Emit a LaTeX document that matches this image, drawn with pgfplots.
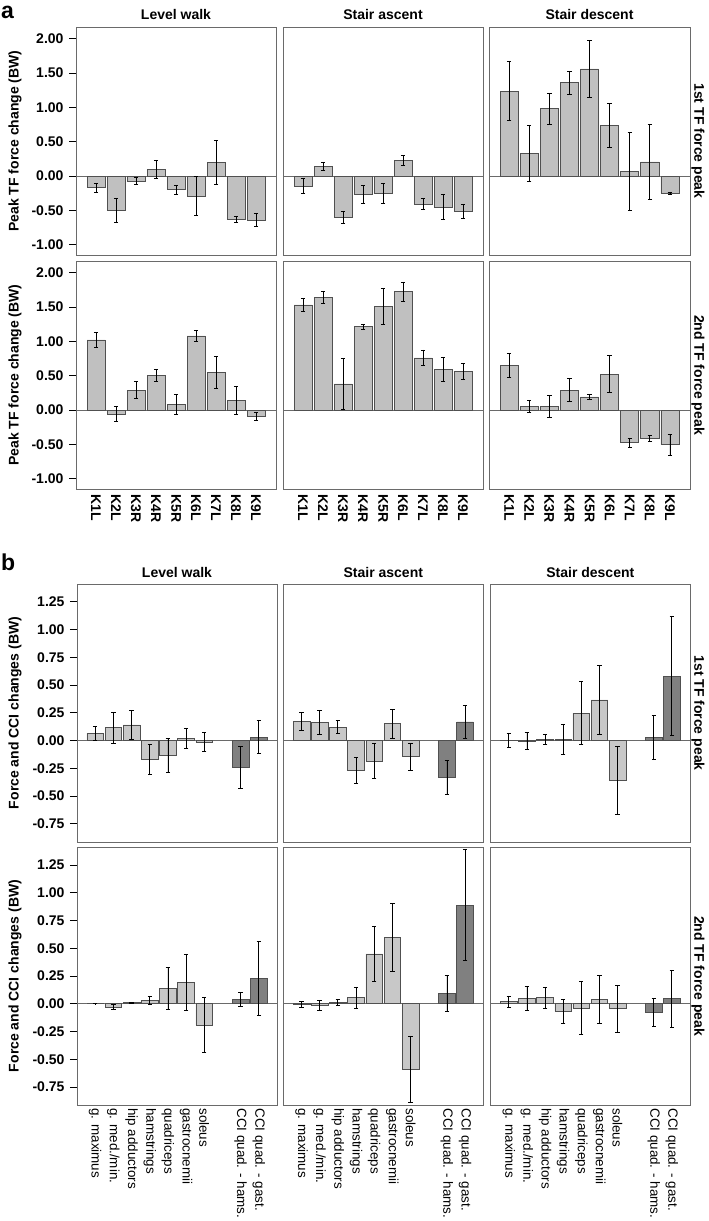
\documentclass[border=0pt]{standalone}
\usepackage{fontspec}
\setmainfont{Liberation Sans}
\usepackage{pgfplots}
\pgfplotsset{compat=1.18}
\definecolor{frameC}{HTML}{6A6A6A}
\definecolor{barA}{HTML}{C0C0C0}
\definecolor{barL}{HTML}{C8C8C8}
\definecolor{barD}{HTML}{808080}
\definecolor{edgeC}{HTML}{505050}
\newcommand{\fs}{\fontsize{14}{14}\selectfont}
\pgfplotsset{
  base/.style={scale only axis, anchor=north west, width=200pt,
    axis line style={draw=frameC, line width=0.9pt},
    ytick style={draw=black, line width=0.8pt},
    xtick style={draw=none},
    ytick pos=left, xtick pos=bottom, tick align=outside, major tick length=7pt,
    yticklabel shift=2pt, xticklabel shift=-5pt,
    ticklabel style={font=\fs\bfseries},
  },
  pa/.style={base, height=228pt, xmin=0, xmax=10, ymin=-1.15, ymax=2.17,
    ytick={-1,-0.5,0,0.5,1,1.5,2},
    yticklabels={-1.00,-0.50,0.00,0.50,1.00,1.50,2.00},
    xtick={1,...,9}, xticklabels={}},
  pb/.style={base, height=258pt, xmin=0, xmax=11, ymin=-0.915, ymax=1.41,
    ytick={-0.75,-0.5,-0.25,0,0.25,0.5,0.75,1,1.25},
    yticklabels={-0.75,-0.50,-0.25,0.00,0.25,0.50,0.75,1.00,1.25},
    xtick={1,2,3,4,5,6,7,9,10}, xticklabels={}},
  noy/.style={ytick=\empty},
  klab/.style={xticklabels={K1L,K2L,K3R,K4R,K5R,K6L,K7L,K8L,K9L},
    xticklabel style={rotate=-90, anchor=west, font=\fs\bfseries}},
  mlab/.style={xticklabel shift=-7.5pt, xticklabels={g. maximus,g. med./min.,hip adductors,hamstrings,quadriceps,gastrocnemii,soleus,CCI quad. - hams.,CCI quad. - gast.},
    xticklabel style={rotate=-90, anchor=west, font=\fontsize{13.4}{13.4}\selectfont\mdseries}},
  errs/.style={error bars/.cd, y dir=both, y explicit,
    error bar style={black, line width=0.8pt},
    error mark options={rotate=90, black, mark size=2.2pt, line width=0.8pt}},
  barsA/.style={ybar, bar width=0.9, bar shift=0pt, fill=barA, draw=edgeC, line width=0.6pt, errs},
  barsL/.style={ybar, bar width=0.92, bar shift=0pt, fill=barL, draw=edgeC, line width=0.6pt, errs},
  barsD/.style={ybar, bar width=0.92, bar shift=0pt, fill=barD, draw=edgeC, line width=0.6pt, errs},
}
\begin{document}
\begin{tikzpicture}
\path[use as bounding box] (0,0) rectangle (709pt,-1221pt);
\tikzset{lab/.style={font=\fs\bfseries, inner sep=0pt}}
% ---------- panel a ----------
\node[font=\fontsize{23}{23}\selectfont\bfseries, anchor=west, inner sep=0pt] at (1pt,-12pt) {a};
\node[lab] at (176pt,-14.5pt) {Level walk};
\node[lab] at (383pt,-14.5pt) {Stair ascent};
\node[lab] at (589.5pt,-14.5pt) {Stair descent};
\node[lab, rotate=90] at (15pt,-141pt) {Peak TF force change (BW)};
\node[lab, rotate=90] at (15pt,-375pt) {Peak TF force change (BW)};
\node[lab, rotate=-90] at (698pt,-141pt) {1st TF force peak};
\node[lab, rotate=-90] at (698pt,-375pt) {2nd TF force peak};
% row 1
\begin{axis}[pa, at={(76pt,-27pt)}]
\addplot[frameC, line width=0.8pt, forget plot] coordinates {(0,0) (10,0)};
\addplot[barsA] coordinates {(1,-0.17) +- (0,0.065) (2,-0.50) +- (0,0.18) (3,-0.07) +- (0,0.05) (4,0.10) +- (0,0.13) (5,-0.20) +- (0,0.065) (6,-0.29) +- (0,0.29) (7,0.20) +- (0,0.32) (8,-0.63) +- (0,0.04) (9,-0.64) +- (0,0.10)};
\end{axis}
\begin{axis}[pa, noy, at={(283pt,-27pt)}]
\addplot[frameC, line width=0.8pt, forget plot] coordinates {(0,0) (10,0)};
\addplot[barsA] coordinates {(1,-0.15) +- (0,0.11) (2,0.14) +- (0,0.055) (3,-0.60) +- (0,0.09) (4,-0.27) +- (0,0.13) (5,-0.25) +- (0,0.145) (6,0.225) +- (0,0.07) (7,-0.41) +- (0,0.08) (8,-0.45) +- (0,0.18) (9,-0.52) +- (0,0.10)};
\end{axis}
\begin{axis}[pa, noy, width=201pt, at={(489pt,-27pt)}]
\addplot[frameC, line width=0.8pt, forget plot] coordinates {(0,0) (10,0)};
\addplot[barsA] coordinates {(1,1.235) +- (0,0.43) (2,0.33) +- (0,0.405) (3,0.98) +- (0,0.23) (4,1.36) +- (0,0.165) (5,1.56) +- (0,0.415) (6,0.74) +- (0,0.32) (7,0.064) +- (0,0.57) (8,0.206) +- (0,0.54) (9,-0.25) +- (0,0.015)};
\end{axis}
% row 2
\begin{axis}[pa, klab, at={(76pt,-261pt)}]
\addplot[frameC, line width=0.8pt, forget plot] coordinates {(0,0) (10,0)};
\addplot[barsA] coordinates {(1,1.02) +- (0,0.105) (2,-0.06) +- (0,0.11) (3,0.29) +- (0,0.125) (4,0.50) +- (0,0.085) (5,0.083) +- (0,0.15) (6,1.08) +- (0,0.085) (7,0.55) +- (0,0.23) (8,0.14) +- (0,0.20) (9,-0.093) +- (0,0.054)};
\end{axis}
\begin{axis}[pa, klab, noy, at={(283pt,-261pt)}]
\addplot[frameC, line width=0.8pt, forget plot] coordinates {(0,0) (10,0)};
\addplot[barsA] coordinates {(1,1.53) +- (0,0.10) (2,1.64) +- (0,0.09) (3,0.38) +- (0,0.37) (4,1.215) +- (0,0.035) (5,1.51) +- (0,0.26) (6,1.725) +- (0,0.14) (7,0.76) +- (0,0.115) (8,0.59) +- (0,0.175) (9,0.56) +- (0,0.115)};
\end{axis}
\begin{axis}[pa, klab, noy, width=201pt, at={(489pt,-261pt)}]
\addplot[frameC, line width=0.8pt, forget plot] coordinates {(0,0) (10,0)};
\addplot[barsA] coordinates {(1,0.65) +- (0,0.18) (2,0.054) +- (0,0.09) (3,0.054) +- (0,0.16) (4,0.29) +- (0,0.17) (5,0.19) +- (0,0.04) (6,0.52) +- (0,0.27) (7,-0.475) +- (0,0.065) (8,-0.41) +- (0,0.04) (9,-0.505) +- (0,0.15)};
\end{axis}
% ---------- panel b ----------
\node[font=\fontsize{23}{23}\selectfont\bfseries, anchor=west, inner sep=0pt] at (1pt,-562pt) {b};
\node[lab] at (177pt,-572.7pt) {Level walk};
\node[lab] at (383.3pt,-572.7pt) {Stair ascent};
\node[lab] at (590.3pt,-572.7pt) {Stair descent};
\node[lab, rotate=90] at (15pt,-713pt) {Force and CCI changes (BW)};
\node[lab, rotate=90] at (15pt,-976pt) {Force and CCI changes (BW)};
\node[lab, rotate=-90] at (698pt,-713pt) {1st TF force peak};
\node[lab, rotate=-90] at (698pt,-976pt) {2nd TF force peak};
% row 1
\begin{axis}[pb, at={(77pt,-584pt)}]
\addplot[frameC, line width=0.8pt, forget plot] coordinates {(0,0) (11,0)};
\addplot[barsL] coordinates {(1,0.065) +- (0,0.06) (2,0.116) +- (0,0.14) (3,0.14) +- (0,0.13) (4,-0.17) +- (0,0.135) (5,-0.134) +- (0,0.15) (6,0.018) +- (0,0.088) (7,-0.015) +- (0,0.085)};
\addplot[barsD] coordinates {(9,-0.244) +- (0,0.187) (10,0.03) +- (0,0.15)};
\end{axis}
\begin{axis}[pb, noy, at={(283.3pt,-584pt)}]
\addplot[frameC, line width=0.8pt, forget plot] coordinates {(0,0) (11,0)};
\addplot[barsL] coordinates {(1,0.173) +- (0,0.08) (2,0.164) +- (0,0.11) (3,0.12) +- (0,0.057) (4,-0.27) +- (0,0.115) (5,-0.185) +- (0,0.155) (6,0.152) +- (0,0.13) (7,-0.146) +- (0,0.12)};
\addplot[barsD] coordinates {(9,-0.333) +- (0,0.157) (10,0.167) +- (0,0.147)};
\end{axis}
\begin{axis}[pb, noy, width=199.3pt, at={(490.7pt,-584pt)}]
\addplot[frameC, line width=0.8pt, forget plot] coordinates {(0,0) (11,0)};
\addplot[barsL] coordinates {(1,0.003) +- (0,0.065) (2,-0.003) +- (0,0.073) (3,0.01) +- (0,0.043) (4,0.01) +- (0,0.134) (5,0.247) +- (0,0.286) (6,0.366) +- (0,0.31) (7,-0.36) +- (0,0.31)};
\addplot[barsD] coordinates {(9,0.027) +- (0,0.2) (10,0.58) +- (0,0.535)};
\end{axis}
% row 2
\begin{axis}[pb, mlab, at={(77pt,-847.3pt)}]
\addplot[frameC, line width=0.8pt, forget plot] coordinates {(0,0) (11,0)};
\addplot[barsL] coordinates {(1,0.001) +- (0,0.001) (2,-0.03) +- (0,0.02) (3,0.009) +- (0,0.005) (4,0.03) +- (0,0.04) (5,0.139) +- (0,0.19) (6,0.193) +- (0,0.256) (7,-0.19) +- (0,0.245)};
\addplot[barsD] coordinates {(9,0.04) +- (0,0.06) (10,0.226) +- (0,0.335)};
\end{axis}
\begin{axis}[pb, mlab, noy, at={(283.3pt,-847.3pt)}]
\addplot[frameC, line width=0.8pt, forget plot] coordinates {(0,0) (11,0)};
\addplot[barsL] coordinates {(1,-0.005) +- (0,0.027) (2,-0.015) +- (0,0.045) (3,0.012) +- (0,0.03) (4,0.057) +- (0,0.095) (5,0.449) +- (0,0.25) (6,0.60) +- (0,0.305) (7,-0.59) +- (0,0.30)};
\addplot[barsD] coordinates {(9,0.093) +- (0,0.16) (10,0.89) +- (0,0.50)};
\end{axis}
\begin{axis}[pb, mlab, noy, width=199.3pt, at={(490.7pt,-847.3pt)}]
\addplot[frameC, line width=0.8pt, forget plot] coordinates {(0,0) (11,0)};
\addplot[barsL] coordinates {(1,0.021) +- (0,0.05) (2,0.048) +- (0,0.11) (3,0.057) +- (0,0.095) (4,-0.066) +- (0,0.107) (5,-0.039) +- (0,0.238) (6,0.039) +- (0,0.214) (7,-0.045) +- (0,0.21)};
\addplot[barsD] coordinates {(9,-0.078) +- (0,0.124) (10,0.045) +- (0,0.256)};
\end{axis}
\end{tikzpicture}
\end{document}
